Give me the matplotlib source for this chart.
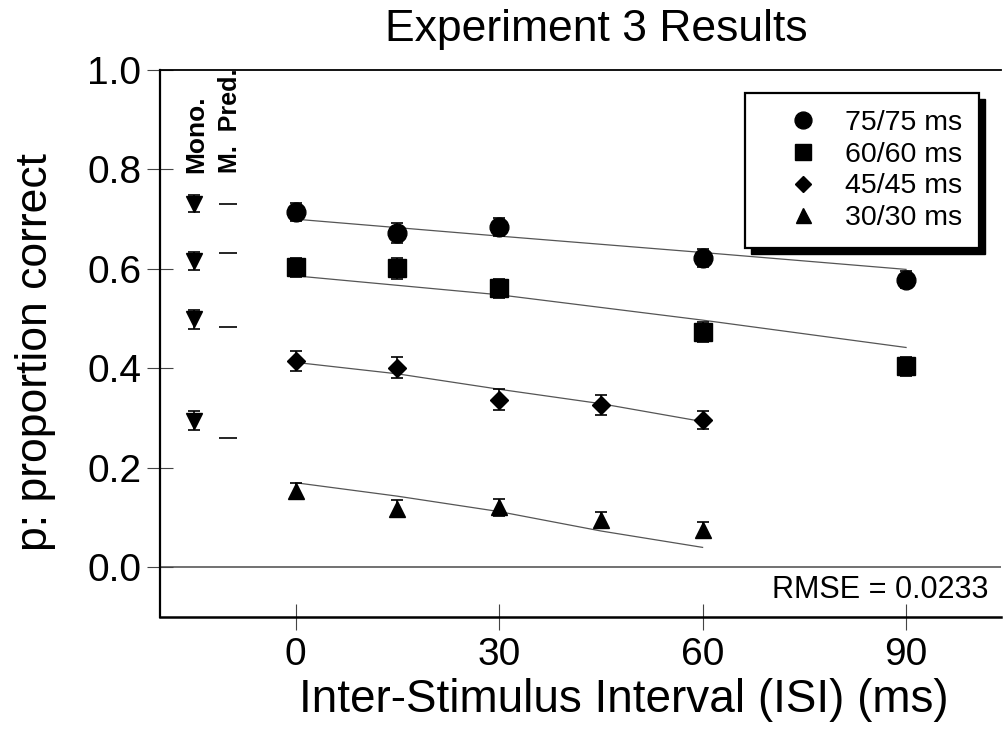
import numpy as np
import matplotlib
matplotlib.use("Agg")
import matplotlib.pyplot as plt
from matplotlib.patches import Rectangle
from matplotlib.transforms import IdentityTransform

plt.rcParams['font.family'] = ['Liberation Sans', 'DejaVu Sans']

# ISI values (ms) per condition
isi_long = [0, 15, 30, 60, 90]
isi_short = [0, 15, 30, 45, 60]

# observed proportion correct, standard errors and model predictions
p75 = [0.714, 0.673, 0.685, 0.622, 0.578]
e75 = [0.018, 0.020, 0.018, 0.018, 0.017]
m75 = [0.700, 0.683, 0.666, 0.633, 0.599]

p60 = [0.603, 0.601, 0.561, 0.474, 0.404]
e60 = [0.019, 0.021, 0.019, 0.020, 0.019]
m60 = [0.586, 0.567, 0.548, 0.497, 0.442]

p45 = [0.414, 0.401, 0.337, 0.326, 0.297]
e45 = [0.020, 0.021, 0.021, 0.020, 0.018]
m45 = [0.412, 0.389, 0.358, 0.329, 0.293]

p30 = [0.154, 0.118, 0.121, 0.096, 0.075]
e30 = [0.016, 0.017, 0.017, 0.016, 0.016]
m30 = [0.170, 0.143, 0.112, 0.073, 0.040]

# monotonic (single target) conditions and their model predictions
mono = [0.731, 0.615, 0.499, 0.295]
mono_err = [0.017, 0.018, 0.019, 0.019]
mono_pred = [0.730, 0.631, 0.483, 0.260]
mono_x = -15
pred_x = -10

labels = ['75/75 ms', '60/60 ms', '45/45 ms', '30/30 ms']
rmse = 0.0233

fig = plt.figure(figsize=(10.05, 7.3), dpi=100)
ax = fig.add_axes([160/1005, 113/730, 841/1005, 547/730])
ax.set_facecolor('none')

ax.axhline(0, color='#666666', lw=1.3, zorder=1)

series = [
    (isi_long, p75, e75, m75, 'o', 13.5),
    (isi_long, p60, e60, m60, 's', 13),
    (isi_short, p45, e45, m45, 'D', 9.5),
    (isi_short, p30, e30, m30, '^', 12),
]
handles = []
for (xs, ys, es, ms_, mk, sz) in series:
    ax.plot(xs, ms_, color='#555555', lw=0.9, zorder=2)
    ax.errorbar(xs, ys, yerr=es, fmt='none', ecolor='k', elinewidth=1.2,
                capsize=4, capthick=1.2, zorder=3)
    h, = ax.plot(xs, ys, linestyle='none', marker=mk, ms=sz, color='k', zorder=4)
    handles.append(h)

ax.errorbar([mono_x]*len(mono), mono, yerr=mono_err, fmt='none', ecolor='k',
            elinewidth=1.2, capsize=4, capthick=1.2, zorder=3)
ax.plot([mono_x]*len(mono), mono, linestyle='none', marker='v', ms=12, color='k', zorder=4)
ax.plot([pred_x]*len(mono_pred), mono_pred, linestyle='none', marker='_', ms=13,
        mew=1.2, color='k', zorder=4)

ax.text(mono_x + 0.3, 0.792, 'Mono.', rotation=90, ha='center', va='bottom',
        fontsize=19, fontweight='bold')
ax.text(pred_x + 0.3, 0.792, 'M.  Pred.', rotation=90, ha='center', va='bottom',
        fontsize=18, fontweight='bold')

ax.set_xlim(-20, 104)
ax.set_ylim(-0.1, 1.0)
ax.set_xticks([0, 30, 60, 90])
ax.set_yticks([0.0, 0.2, 0.4, 0.6, 0.8, 1.0])
ax.set_yticklabels(['0.0', '0.2', '0.4', '0.6', '0.8', '1.0'])
ax.tick_params(axis='both', direction='inout', length=19, width=0.8,
               color='#444444', labelsize=28)
ax.tick_params(axis='x', pad=5)
ax.tick_params(axis='y', pad=4)

ax.spines['right'].set_visible(False)
ax.spines['left'].set_linewidth(1.6)
ax.spines['bottom'].set_linewidth(1.8)
ax.spines['top'].set_linewidth(1.3)

ax.text(0.985, 0.05, 'RMSE = %.4f' % rmse, transform=ax.transAxes,
        ha='right', va='center', fontsize=22)

fig.text(596/1005, 1 - 30/730, 'Experiment 3 Results', ha='center', va='center', fontsize=32)
fig.text(624/1005, 1 - 700/730, 'Inter-Stimulus Interval (ISI) (ms)', ha='center',
         va='center', fontsize=33)
fig.text(36/1005, 1 - 352/730, 'p: proportion correct', ha='center', va='center',
         rotation=90, fontsize=32)

leg = ax.legend(handles, labels, loc='upper left',
                bbox_to_anchor=(745/1005, 1 - 93/730), bbox_transform=fig.transFigure,
                fontsize=20.5, frameon=True, fancybox=False, framealpha=1,
                edgecolor='k', borderaxespad=0, borderpad=0.6, labelspacing=0.2,
                handletextpad=0.0, handlelength=2.9, markerscale=0.9)
leg.get_frame().set_linewidth(1.6)
leg.set_zorder(6)

fig.canvas.draw()
bb = leg.get_window_extent()
ax.add_patch(Rectangle((bb.x0 + 6, bb.y0 - 6), bb.width, bb.height,
                       transform=IdentityTransform(), facecolor='k', edgecolor='k',
                       zorder=5.5, clip_on=False))

fig.savefig('out.png', dpi=100)
